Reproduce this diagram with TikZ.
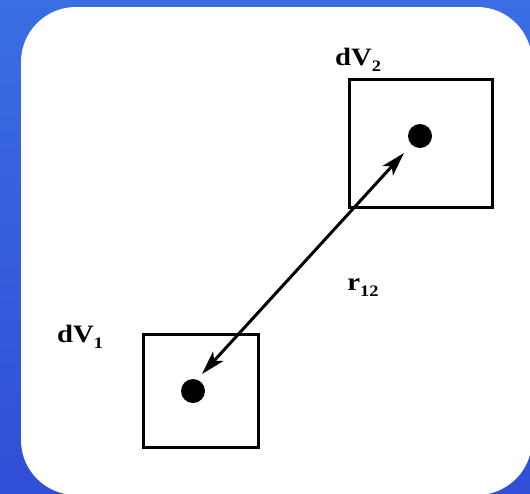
\documentclass[tikz,border=0pt]{standalone}
\usepackage{fontspec}
\setmainfont{Liberation Serif}
\usetikzlibrary{arrows.meta}
\definecolor{bgtop}{RGB}{58,110,226}
\definecolor{bgbot}{RGB}{48,78,214}
\newcommand{\mysub}[1]{\raisebox{-6pt}{\fontsize{16}{16}\selectfont #1}}
\tikzset{
  vol/.style={draw=black, line width=3pt},
  pt/.style={circle, fill=black, inner sep=0pt, minimum size=24pt},
  lbl/.style={font=\bfseries\fontsize{25}{28}\selectfont, inner sep=0pt, xscale=1.15},
  conn/.style={line width=3pt, {Stealth[length=24pt,width=14pt,inset=6pt]}-{Stealth[length=24pt,width=14pt,inset=6pt]}}
}
\begin{document}
\begin{tikzpicture}[x=1pt,y=-1pt]
  \useasboundingbox (0,0) rectangle (530,493);
  \shade[top color=bgtop, bottom color=bgbot] (0,0) rectangle (530,493);
  \fill[white, rounded corners=55pt] (21,7) rectangle (532,495);
  \draw[vol] (349,79) rectangle (492,207);
  \draw[vol] (143,334) rectangle (258,447);
  \node[pt] (p2) at (420,136) {};
  \node[pt] (p1) at (193,391) {};
  \coordinate (a2) at (404,153);
  \coordinate (a1) at (202,374);
  \draw[conn] (a1) -- (a2);
  \node[lbl] (l2) at (358,60) {dV\mysub{2}};
  \node[lbl] (l1) at (80,337) {dV\mysub{1}};
  \node[lbl] (l3) at (363,288) {r\mysub{12}};
\end{tikzpicture}
\end{document}
